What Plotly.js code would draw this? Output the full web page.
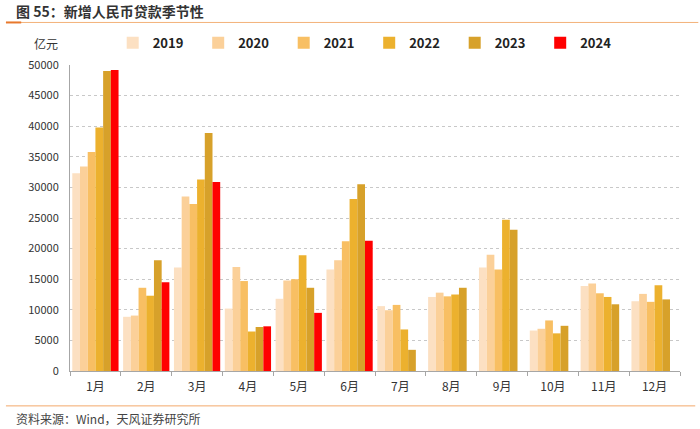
<!DOCTYPE html>
<html><head><meta charset="utf-8">
<script src="https://cdn.plot.ly/plotly-3.0.1.min.js"></script>
<style>html,body{margin:0;padding:0;background:#fff;}#chart{width:700px;height:429px;}</style>
</head><body><div id="chart"></div>
<script>
const months = ["1月","2月","3月","4月","5月","6月","7月","8月","9月","10月","11月","12月"];
const years = ["2019","2020","2021","2022","2023","2024"];
const colors = ["#FCE0C2","#FBD099","#F8BF63","#ECB12E","#D7A12A","#FF0000"];
const v2019 = [32300, 8858, 16900, 10200, 11800, 16600, 10600, 12100, 16900, 6613, 13900, 11400];
const v2020 = [33400, 9057, 28500, 17000, 14800, 18100, 9927, 12800, 19000, 6898, 14300, 12600];
const v2021 = [35800, 13600, 27300, 14700, 15000, 21200, 10800, 12200, 16600, 8262, 12700, 11300];
const v2022 = [39800, 12300, 31300, 6454, 18900, 28100, 6790, 12500, 24700, 6152, 12100, 14000];
const v2023 = [49000, 18100, 38900, 7188, 13600, 30500, 3459, 13600, 23100, 7384, 10900, 11700];
const v2024 = [49200, 14500, 30900, 7300, 9500, 21300];
const series = [v2019, v2020, v2021, v2022, v2023, v2024];
const yTicks = [0,5000,10000,15000,20000,25000,30000,35000,40000,45000,50000];

const font = "Noto Sans CJK SC, sans-serif";
const traces = series.map((vals, i) => ({
  type: "bar", name: years[i], x: months.slice(0, vals.length), y: vals,
  marker: {color: colors[i], line: {width: 0}}, hoverinfo: "none"
}));

const layout = {
  width: 700, height: 429,
  margin: {l: 70, r: 20, t: 65, b: 58},
  paper_bgcolor: "#fff", plot_bgcolor: "#fff",
  font: {family: font, color: "#333", size: 12},
  barmode: "group", bargap: 0.09, bargroupgap: 0,
  showlegend: true,
  legend: {orientation: "h", xref: "container", yref: "container", x: 0.161, xanchor: "left",
           y: 0.9, yanchor: "middle", entrywidth: 40.5, entrywidthmode: "pixels",
           font: {family: font, size: 13, color: "#222", weight: "bold"}, traceorder: "normal",
           bgcolor: "rgba(0,0,0,0)", itemclick: false},
  xaxis: {type: "category", categoryarray: months, showline: true, linecolor: "#A6A6A6", linewidth: 1,
          ticks: "outside", tickson: "boundaries", ticklen: 4, tickcolor: "#A6A6A6", ticklabelstandoff: 5,
          tickfont: {family: font, size: 12, color: "#333"}, showgrid: false, zeroline: false, fixedrange: true},
  yaxis: {range: [0, 50000], tickvals: yTicks, ticktext: yTicks.map(String), showline: true,
          linecolor: "#A6A6A6", linewidth: 1, ticks: "", showgrid: true, gridcolor: "#C8C8C8",
          griddash: "dot", gridwidth: 1, zeroline: false, ticklabelstandoff: 8,
          tickfont: {family: font, size: 11, color: "#333"}, fixedrange: true},
  shapes: [
    {type: "line", xref: "paper", yref: "paper", x0: -0.105, x1: 1.03, y0: 1.139, y1: 1.139,
     line: {color: "#F3B27A", width: 1}},
    {type: "line", xref: "paper", yref: "paper", x0: -0.105, x1: -0.08, y0: 1.139, y1: 1.139,
     line: {color: "#E8782C", width: 2}},
    {type: "line", xref: "paper", yref: "paper", x0: -0.105, x1: 1.025, y0: -0.114, y1: -0.114,
     line: {color: "#F3A86A", width: 1}}
  ],
  annotations: [
    {text: "<b>图 55：新增人民币贷款季节性</b>", xref: "paper", yref: "paper", x: -0.092, y: 1.176,
     xanchor: "left", yanchor: "middle", showarrow: false, font: {family: font, size: 14, color: "#333"}},
    {text: "亿元", xref: "paper", yref: "paper", x: -0.04, y: 1.07, xanchor: "center", yanchor: "middle",
     showarrow: false, font: {family: font, size: 12, color: "#333"}},
    {text: "资料来源：Wind，天风证券研究所", xref: "paper", yref: "paper", x: -0.092, y: -0.154,
     xanchor: "left", yanchor: "middle", showarrow: false, font: {family: font, size: 12, color: "#444"}}
  ]
};
Plotly.newPlot("chart", traces, layout, {displayModeBar: false, staticPlot: true});
</script></body></html>
